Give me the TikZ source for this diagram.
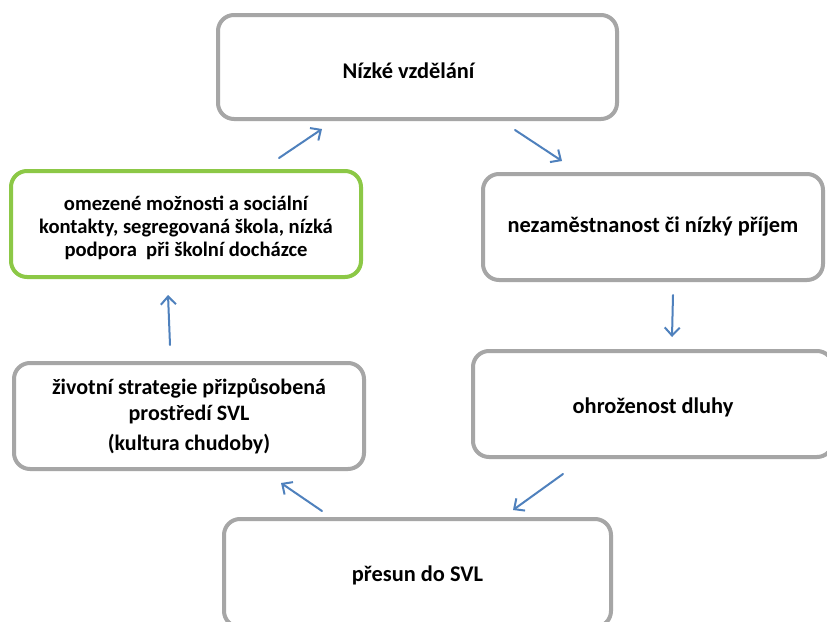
\documentclass[tikz,border=0pt]{standalone}
\usepackage{fontspec}
\setmainfont{Carlito}
\usetikzlibrary{arrows.meta}
\definecolor{boxgray}{RGB}{166,166,166}
\definecolor{boxgreen}{RGB}{140,200,70}
\definecolor{arrowblue}{RGB}{79,129,189}
\newcommand{\lowered}[2]{\raisebox{-#1}[\height][\depth]{#2}}
\begin{document}
\begin{tikzpicture}[x=1pt,y=-1pt,
  box/.style={draw=boxgray, line width=4pt, rounded corners=16pt, fill=white, align=center,
    font=\bfseries\fontsize{22.4}{26}\selectfont, inner sep=0pt},
  flow/.style={draw=arrowblue, line width=2pt, line cap=round,
    -{Straight Barb[length=8pt,width=15pt,line width=2pt]}}]
\useasboundingbox (0,0) rectangle (827,621);
\clip (0,0) rectangle (827,621);
\fill[white] (0,0) rectangle (827,621);
\node[box, minimum width=399pt, minimum height=104pt] (n1) at (417.5,67) {\lowered{4pt}{Nízké vzdělání}\hspace{18pt}};
\node[box, minimum width=340pt, minimum height=106pt] (n2) at (653,227) {nezaměstnanost či nízký příjem};
\node[box, minimum width=360pt, minimum height=106pt] (n3) at (653,404) {\lowered{3pt}{ohroženost dluhy}};
\node[box, minimum width=387pt, minimum height=108pt] (n4) at (417.5,573) {\lowered{2pt}{přesun do SVL}};
\node[box, font=\bfseries\fontsize{22}{26}\selectfont, minimum width=350pt, minimum height=106pt] (n5) at (189,416) {životní strategie přizpůsobená\\prostředí SVL\\[4pt](kultura chudoby)};
\node[box, draw=boxgreen, font=\bfseries\fontsize{20.6}{23}\selectfont, minimum width=350pt, minimum height=106pt] (n6) at (186,224) {\lowered{5pt}{\begin{tabular}{@{}c@{}}omezené možnosti a sociální\\kontakty, segregovaná škola, nízká\\podpora \ při školní docházce\end{tabular}}};
\coordinate (a1s) at (279,158); \coordinate (a1e) at (322,129);
\coordinate (a2s) at (515,130); \coordinate (a2e) at (562,161);
\coordinate (a3s) at (673,295); \coordinate (a3e) at (672,337);
\coordinate (a4s) at (563,474); \coordinate (a4e) at (513,510);
\coordinate (a5s) at (322,511); \coordinate (a5e) at (281,483);
\coordinate (a6s) at (170,345); \coordinate (a6e) at (168,295);
\draw[flow] (a1s) -- (a1e);
\draw[flow] (a2s) -- (a2e);
\draw[flow] (a3s) -- (a3e);
\draw[flow] (a4s) -- (a4e);
\draw[flow] (a5s) -- (a5e);
\draw[flow] (a6s) -- (a6e);
\end{tikzpicture}
\end{document}
